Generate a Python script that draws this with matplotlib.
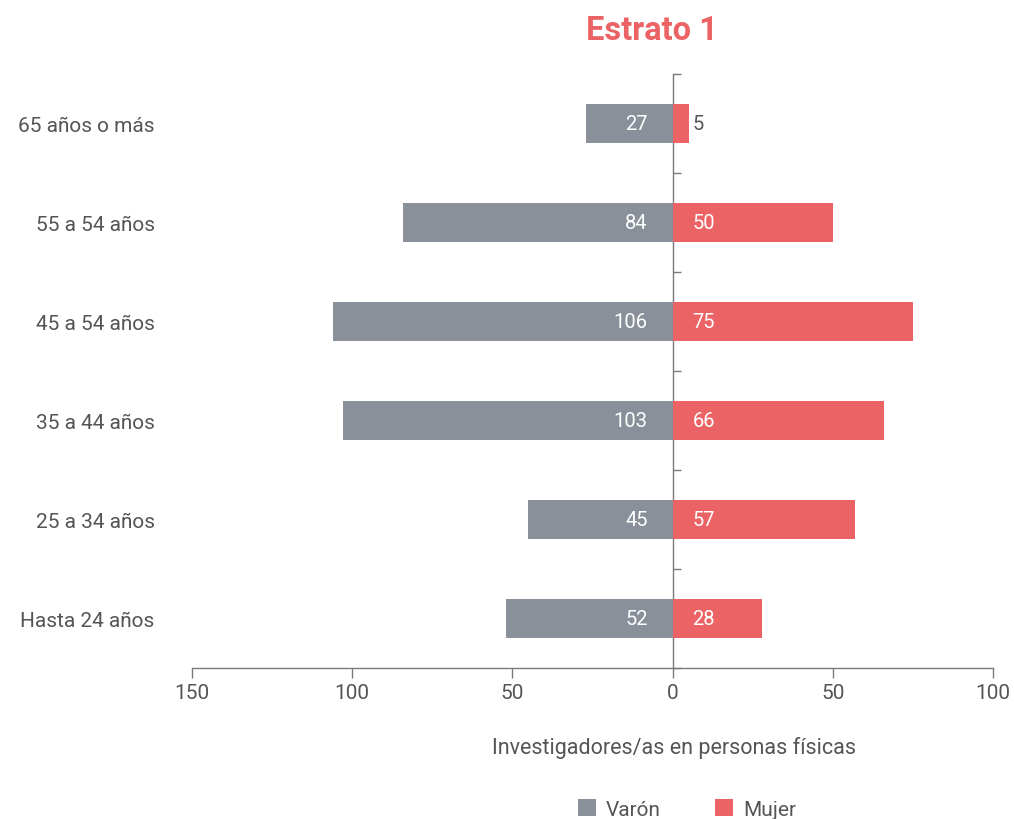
import matplotlib
matplotlib.use("Agg")
import matplotlib.pyplot as plt
from matplotlib.patches import Patch

plt.rcParams['font.family'] = ['Roboto', 'DejaVu Sans']

# Age groups, listed top to bottom
grupos = ["65 años o más", "55 a 54 años", "45 a 54 años",
          "35 a 44 años", "25 a 34 años", "Hasta 24 años"]
varon = [27, 84, 106, 103, 45, 52]
mujer = [5, 50, 75, 66, 57, 28]
xticks = [-150, -100, -50, 0, 50, 100]

GRIS = "#89909a"
ROJO = "#ec6366"
TEXTO = "#555555"
EJE = "#7a7a7a"

fig = plt.figure(figsize=(10.14, 8.2), dpi=100)
ax = fig.add_axes([192 / 1014, 1 - 669 / 820, (993 - 192) / 1014, (669 - 75) / 820])

y = list(range(len(grupos)))
ax.barh(y, [-v for v in varon], height=0.4, color=GRIS, zorder=2)
ax.barh(y, mujer, height=0.4, color=ROJO, zorder=2)

ax.set_xlim(-150, 100)
ax.set_ylim(len(grupos) - 0.5, -0.5)

# value labels
for yi, v in zip(y, varon):
    ax.annotate(str(v), (0, yi), xytext=(-18, 0), textcoords="offset points",
                ha="right", va="center", color="white", fontsize=14.5, zorder=3)
for yi, v in zip(y, mujer):
    ax.annotate(str(v), (0, yi), xytext=(14.4, 0), textcoords="offset points",
                ha="left", va="center", fontsize=14.5, zorder=3,
                color="white" if v >= 15 else TEXTO)

# category labels on the left
ax.set_yticks(y)
ax.set_yticklabels(grupos, fontsize=15, color=TEXTO)
ax.tick_params(axis="y", length=0, pad=27)

# x axis
ax.set_xticks(xticks)
ax.set_xticklabels([str(abs(t)) for t in xticks], fontsize=15, color=TEXTO)
ax.tick_params(axis="x", length=7.5, width=1, color=EJE, pad=3)

for s in ("top", "right", "left"):
    ax.spines[s].set_visible(False)
ax.spines["bottom"].set_color(EJE)
ax.spines["bottom"].set_linewidth(1)

# central axis at zero with ticks at group boundaries
central = ax.secondary_yaxis(150 / 250)
central.set_yticks([i - 0.5 for i in range(len(grupos) + 1)])
central.set_yticklabels([])
central.tick_params(axis="y", length=6, width=1, color=EJE, direction="out")
for sp in central.spines.values():
    sp.set_color(EJE)
    sp.set_linewidth(1)

fig.text(652 / 1014, 1 - 31 / 820, "Estrato 1", ha="center", va="center",
         fontsize=23.5, fontweight="bold", color=ROJO)
fig.text(674 / 1014, 1 - 748 / 820, "Investigadores/as en personas físicas",
         ha="center", va="center", fontsize=15.5, color=TEXTO)

handles = [Patch(facecolor=GRIS, label="Varón"), Patch(facecolor=ROJO, label="Mujer")]
fig.legend(handles=handles, loc="center", bbox_to_anchor=(687 / 1014, 1 - 810 / 820),
           ncol=2, frameon=False, fontsize=15, handlelength=0.85, handleheight=0.85,
           handletextpad=0.5, columnspacing=2.6, labelcolor=TEXTO)

fig.savefig("out.png", dpi=100)
